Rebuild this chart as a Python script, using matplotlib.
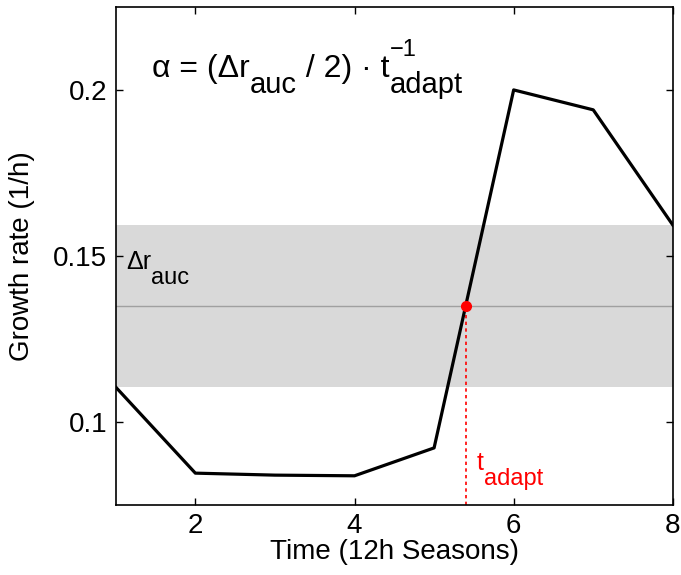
import numpy as np
import matplotlib
matplotlib.use("Agg")
import matplotlib.pyplot as plt
from matplotlib.transforms import IdentityTransform

plt.rcParams['font.family'] = ['Liberation Sans', 'DejaVu Sans']

# Datos
tiempo = [1, 2, 3, 4, 5, 6, 7, 8]
crecimiento = [0.1105, 0.0846, 0.0840, 0.0838, 0.0922, 0.2000, 0.1940, 0.1593]
banda_baja = 0.1106
banda_alta = 0.1593
x_ticks = [2, 4, 6, 8]
y_ticks = [0.1, 0.15, 0.2]
y_etiquetas = ["0.1", "0.15", "0.2"]

r_medio = (banda_baja + banda_alta) / 2
# t_adapt: cruce de la curva con el valor medio (tramo 5-6)
t_adapt = np.interp(r_medio, crecimiento[4:6], tiempo[4:6])

fig = plt.figure(figsize=(6.81, 5.75), dpi=100)
ax = fig.add_axes([0.170, 0.1217, 0.818, 0.8663])

ax.axhspan(banda_baja, banda_alta, color="#d9d9d9", lw=0, zorder=0)
ax.axhline(r_medio, color="#a0a0a0", lw=1.0, zorder=1)
ax.plot(tiempo, crecimiento, color="black", lw=2.3, zorder=3)
ax.plot([t_adapt, t_adapt], [0.075, r_medio], color="red", lw=1.2, ls=(0, (2, 2)), zorder=2)
ax.plot(t_adapt, r_medio, "o", color="red", ms=7, zorder=4)

ax.set_xlim(1, 8)
ax.set_ylim(0.075, 0.225)
ax.set_xticks(x_ticks)
ax.set_xticklabels([str(t) for t in x_ticks])
ax.set_yticks(y_ticks)
ax.set_yticklabels(y_etiquetas)
ax.tick_params(direction="in", length=5, width=1, top=True, right=True, labelsize=20, pad=6)
for s in ax.spines.values():
    s.set_linewidth(1.2)

ax.set_xlabel("Time (12h Seasons)", fontsize=20, labelpad=0)
ax.set_ylabel("Growth rate (1/h)", fontsize=20, labelpad=13)

renderer = fig.canvas.get_renderer()


# texto con subindices al estilo matlab (mismo tamaño, bajado)
def texto_rico(x, y, piezas, color="black"):
    x0, y0 = ax.transData.transform((x, y))
    dx = 0
    for texto, tam, dy, avanza in piezas:
        t = fig.text(x0 + dx, y0 + dy, texto, transform=IdentityTransform(),
                     fontsize=tam, color=color, va="baseline", ha="left")
        if avanza:
            dx += t.get_window_extent(renderer).width


texto_rico(1.46, 0.2039, [
    ("\u03b1 = (\u0394r", 23, 0, True),
    ("auc", 21, -16, True),
    (" / 2) \u00b7 t", 23, 0, True),
    ("\u22121", 17, 21, False),
    ("adapt", 21, -16, True),
])
texto_rico(1.13, 0.1461, [("\u0394r", 18, 0, True), ("auc", 17, -15, True)])
texto_rico(5.535, 0.0855, [("t", 18, 0, True), ("adapt", 17, -15, True)], color="red")

fig.savefig("out.png", dpi=100)
